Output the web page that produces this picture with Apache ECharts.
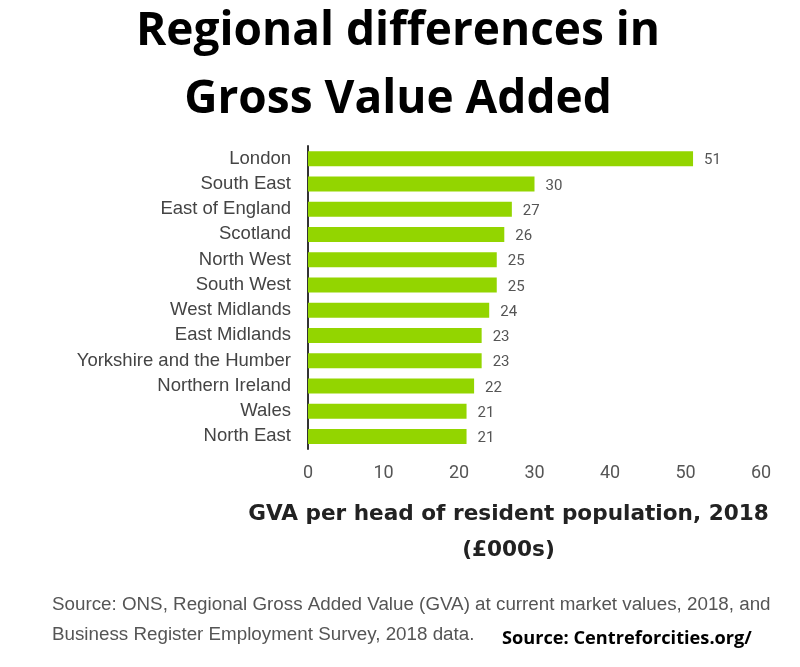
<!DOCTYPE html>
<html lang="en">

<head>
    <meta charset="UTF-8">
    <title>Regional differences in Gross Value Added</title>
    <style>
        html, body { margin: 0; padding: 0; background: #fff; }
        #chart { width: 800px; height: 667px; }
    </style>
</head>

<body>
    <div id="chart"></div>

    <script src="https://cdn.jsdelivr.net/npm/echarts@6/dist/echarts.min.js"></script>
    <script>
        const regions = ['London', 'South East', 'East of England', 'Scotland', 'North West', 'South West',
            'West Midlands', 'East Midlands', 'Yorkshire and the Humber', 'Northern Ireland', 'Wales', 'North East']
        const gva = [51, 30, 27, 26, 25, 25, 24, 23, 23, 22, 21, 21]

        const myChart = echarts.init(document.getElementById('chart'))

        const option = {
            backgroundColor: '#fff',
            animation: false,
            title: {
                text: 'Regional differences in\nGross Value Added',
                left: 393,
                top: -7,
                textAlign: 'center',
                textStyle: {
                    fontFamily: 'Open Sans',
                    fontWeight: 'bold',
                    fontSize: 46,
                    lineHeight: 68,
                    color: '#000'
                }
            },
            // outerBoundsMode none: keep the plot where it is, the axis name must not squeeze it
            grid: { left: 308, top: 146, width: 453, height: 303, outerBoundsMode: 'none' },
            xAxis: {
                type: 'value',
                min: 0,
                max: 60,
                interval: 10,
                splitLine: { show: false },
                axisLine: { show: false },
                axisTick: { show: false },
                axisLabel: {
                    margin: 15,
                    fontFamily: 'Roboto',
                    fontSize: 18,
                    color: '#555'
                },
                name: 'GVA per head of resident population, 2018\n(£000s)',
                nameLocation: 'middle',
                nameGap: 47,
                nameTextStyle: {
                    fontFamily: 'DejaVu Sans',
                    fontWeight: 'bold',
                    fontSize: 21.6,
                    lineHeight: 36,
                    color: '#222',
                    padding: [0, 52, 0, 0]
                }
            },
            yAxis: {
                type: 'category',
                inverse: true,
                data: regions,
                axisLine: { show: true, lineStyle: { color: '#333', width: 2 } },
                axisTick: { show: false },
                axisLabel: {
                    margin: 17,
                    fontFamily: 'Liberation Sans',
                    fontSize: 18.5,
                    color: '#444'
                }
            },
            series: [{
                type: 'bar',
                data: gva,
                barWidth: 15,
                itemStyle: { color: '#93d500' },
                label: {
                    show: true,
                    position: 'right',
                    distance: 11,
                    offset: [0, 2],
                    fontFamily: 'Roboto',
                    fontSize: 15,
                    color: '#555'
                }
            }],
            graphic: [{
                type: 'text',
                left: 52,
                top: 595,
                style: {
                    text: 'Source: ONS, Regional Gross Added Value (GVA) at current market values, 2018, and',
                    font: '18.8px "Liberation Sans"',
                    fill: '#555'
                }
            }, {
                type: 'text',
                left: 52,
                top: 625,
                style: {
                    text: 'Business Register Employment Survey, 2018 data.',
                    font: '18.8px "Liberation Sans"',
                    fill: '#555'
                }
            }, {
                type: 'text',
                left: 502,
                top: 630,
                style: {
                    text: 'Source: Centreforcities.org/',
                    font: 'bold 18.2px "Open Sans"',
                    fill: '#000'
                }
            }]
        }

        myChart.setOption(option)
    </script>
</body>

</html>
